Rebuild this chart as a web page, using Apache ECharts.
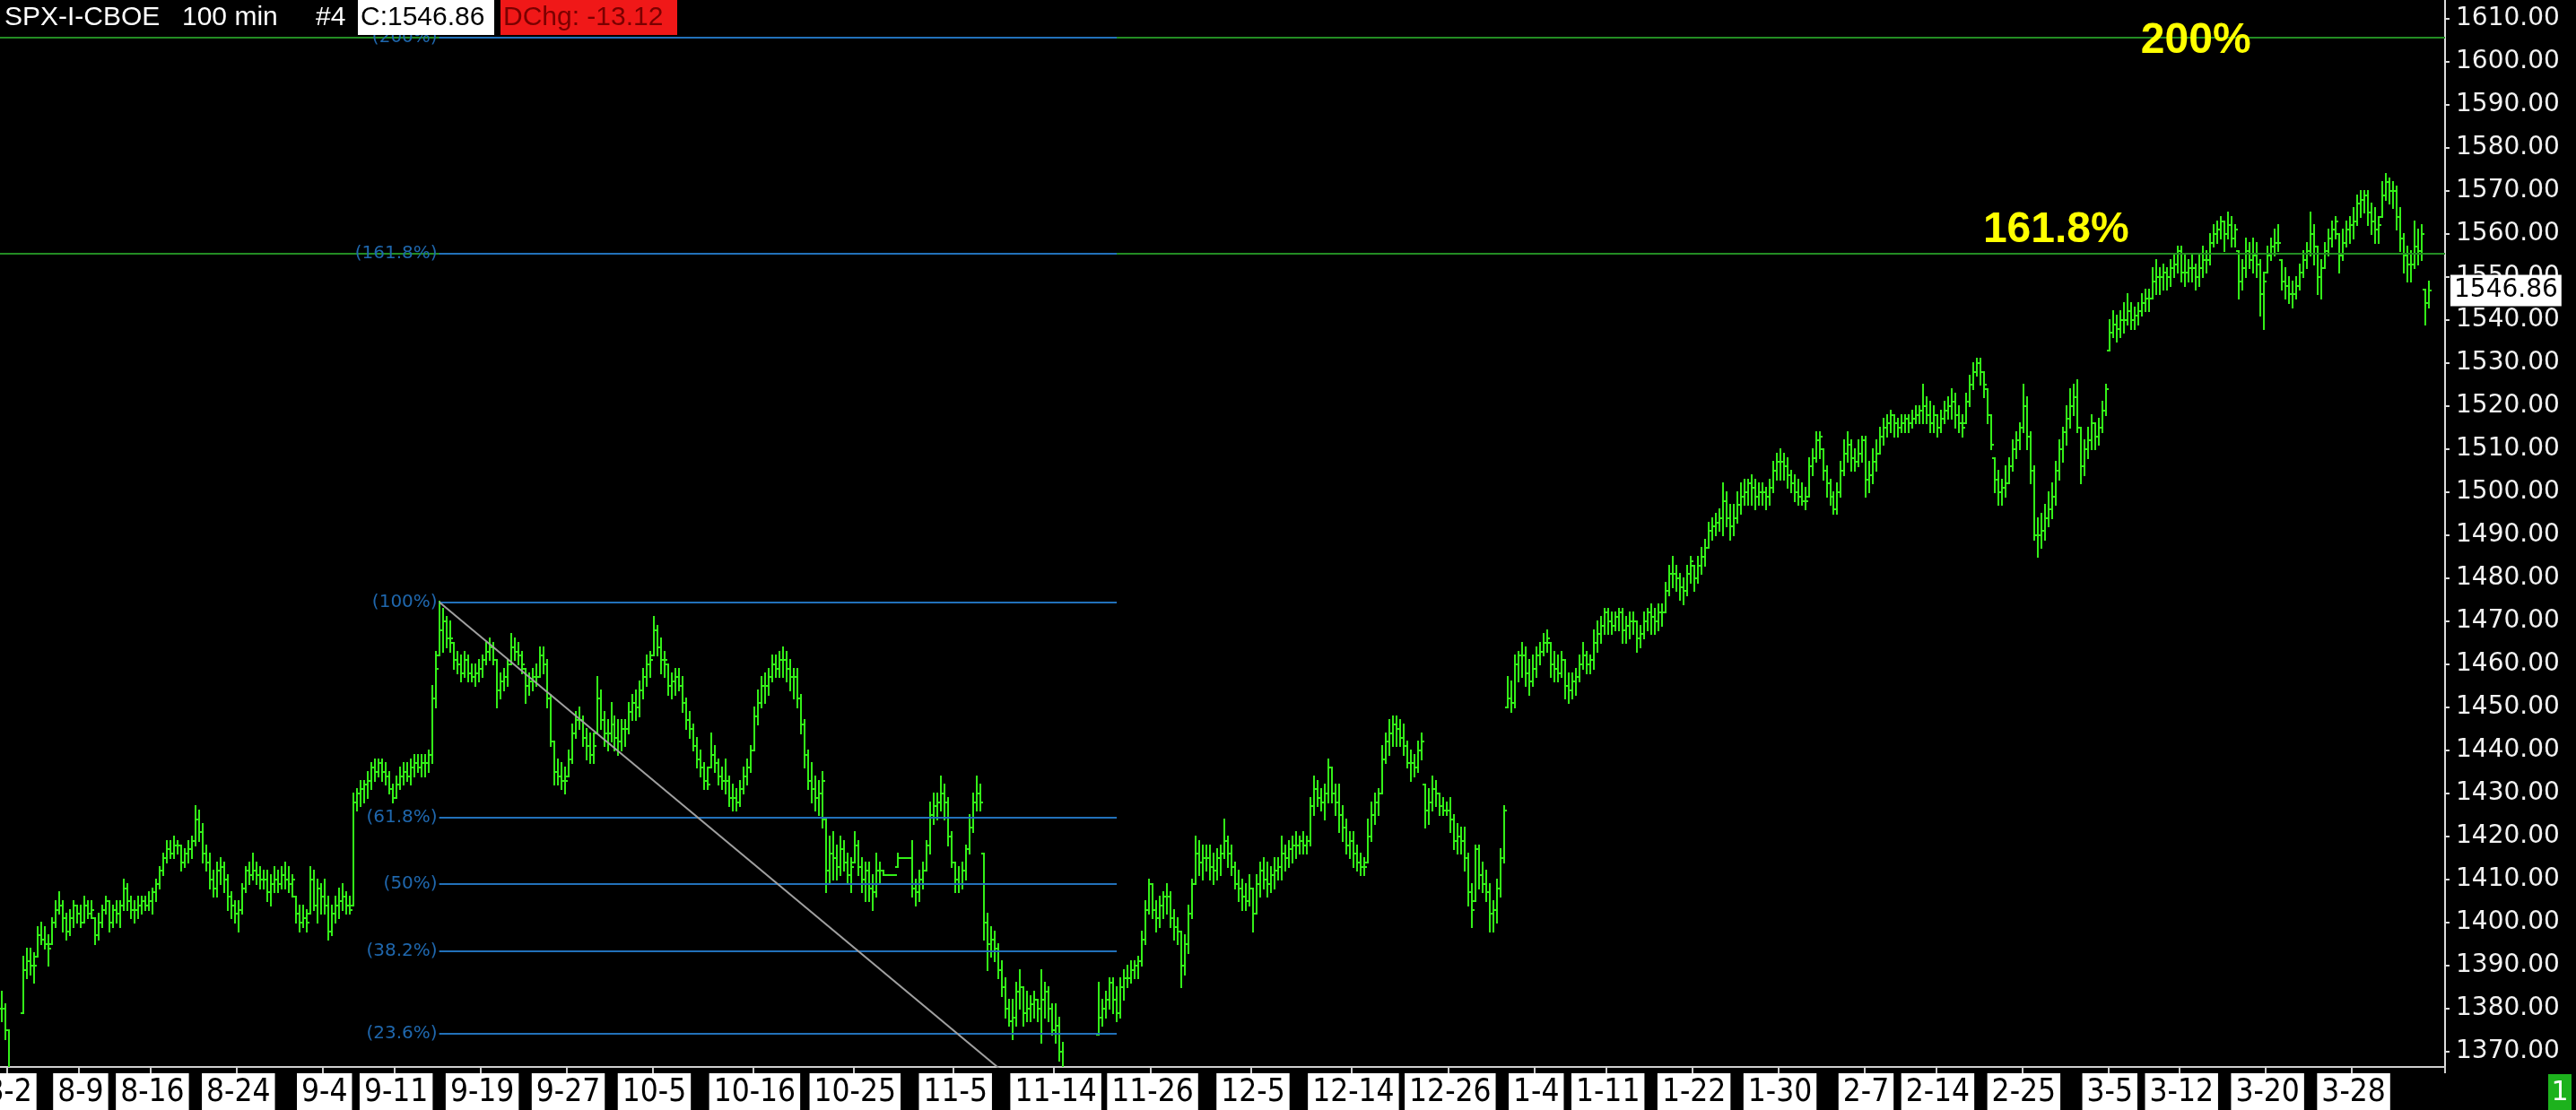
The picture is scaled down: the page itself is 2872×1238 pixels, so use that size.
<!DOCTYPE html>
<html><head><meta charset="utf-8">
<script src="https://cdn.jsdelivr.net/npm/echarts@6/dist/echarts.min.js"></script>
<style>html,body{margin:0;padding:0;background:#000}#c{width:2872px;height:1238px}</style>
</head><body><div id="c"></div>
<script>
// ---- Data: 100-minute bars, each [high, low, close] ----
const aug = [
['8-1',[[1384,1377,1380],[1381,1373,1375]]],
['8-2',[[1375,1360,1363],[1365,1355,1358],[1363,1355,1361],[1365,1358,1365]]],
['8-3',[[1392,1379,1389],[1394,1387,1391],[1394,1388,1390],[1393,1386,1390]]],
['8-6',[[1399,1392,1397],[1400,1395,1396],[1399,1394,1395],[1397,1390,1394]]],
['8-7',[[1401,1395,1400],[1405,1399,1403],[1407,1402,1404],[1405,1398,1401]]],
['8-8',[[1402,1396,1398],[1403,1397,1401],[1405,1399,1404],[1404,1400,1402]]],
['8-9',[[1404,1399,1400],[1406,1400,1404],[1405,1401,1402],[1405,1401,1403]]],
['8-10',[[1401,1395,1397],[1402,1396,1400],[1404,1399,1403],[1406,1402,1405]]],
['8-13',[[1405,1398,1400],[1404,1399,1403],[1405,1400,1402],[1405,1399,1404]]],
['8-14',[[1410,1403,1408],[1409,1403,1405],[1406,1401,1403],[1405,1400,1403]]],
['8-15',[[1406,1401,1404],[1406,1402,1405],[1406,1403,1404],[1407,1403,1405]]],
['8-16',[[1408,1402,1407],[1410,1405,1409],[1413,1408,1412],[1416,1411,1415]]],
['8-17',[[1419,1414,1417],[1419,1415,1416],[1420,1415,1418],[1419,1416,1418]]],
['8-20',[[1418,1412,1414],[1417,1413,1416],[1419,1414,1417],[1420,1415,1419]]],
['8-21',[[1427,1418,1424],[1426,1419,1421],[1423,1414,1416],[1418,1412,1414]]],
['8-22',[[1416,1408,1410],[1412,1406,1408],[1414,1406,1412],[1415,1409,1413]]],
['8-23',[[1414,1407,1410],[1411,1403,1406],[1407,1401,1404],[1405,1400,1402]]],
['8-24',[[1405,1398,1403],[1409,1402,1408],[1413,1407,1412],[1414,1409,1411]]],
['8-27',[[1416,1410,1412],[1414,1409,1411],[1413,1408,1410],[1412,1408,1410]]],
['8-28',[[1412,1405,1407],[1411,1404,1409],[1413,1407,1410],[1412,1407,1409]]],
['8-29',[[1413,1408,1411],[1414,1408,1410],[1413,1407,1409],[1411,1406,1410]]],
['8-30',[[1406,1400,1402],[1404,1398,1400],[1404,1399,1401],[1403,1398,1400]]],
['8-31',[[1413,1402,1410],[1412,1403,1404],[1410,1400,1408],[1409,1402,1406]]]
];
const sep = [
['9-4',[[1410,1402,1404],[1406,1396,1398],[1404,1397,1402],[1406,1400,1404]]],
['9-5',[[1408,1401,1405],[1409,1403,1406],[1407,1402,1404],[1406,1402,1403]]],
['9-6',[[1430,1404,1428],[1431,1426,1430],[1433,1427,1431],[1433,1428,1432]]],
['9-7',[[1435,1429,1433],[1437,1431,1436],[1438,1433,1435],[1438,1434,1437]]],
['9-10',[[1438,1433,1435],[1437,1432,1434],[1435,1430,1431],[1432,1428,1429]]],
['9-11',[[1434,1429,1432],[1436,1431,1434],[1437,1432,1435],[1437,1433,1434]]],
['9-12',[[1438,1432,1436],[1439,1434,1437],[1439,1435,1436],[1439,1434,1437]]],
['9-13',[[1439,1434,1437],[1440,1435,1439],[1455,1437,1452],[1463,1450,1459]]],
['9-14',[[1474.5,1462,1468],[1473,1463,1470],[1471,1464,1466],[1470,1463,1466]]],
['9-17',[[1465,1459,1461],[1463,1458,1460],[1462,1456,1458],[1463,1457,1461]]],
['9-18',[[1462,1456,1458],[1460,1456,1457],[1460,1455,1458],[1461,1456,1459]]],
['9-19',[[1462,1457,1461],[1465,1460,1463],[1466,1461,1464],[1465,1460,1461]]],
['9-20',[[1461,1450,1454],[1458,1452,1456],[1459,1454,1457],[1461,1455,1460]]],
['9-21',[[1467,1460,1464],[1466,1461,1463],[1465,1460,1462],[1463,1458,1460]]],
['9-24',[[1459,1451,1455],[1458,1453,1456],[1459,1454,1457],[1460,1455,1457]]],
['9-25',[[1464,1457,1462],[1464,1458,1460],[1461,1450,1452],[1453,1441,1442]]],
['9-26',[[1442,1432,1435],[1438,1432,1434],[1437,1431,1433],[1436,1430,1433]]],
['9-27',[[1440,1434,1438],[1446,1437,1444],[1449,1443,1447],[1450,1445,1447]]],
['9-28',[[1448,1441,1443],[1445,1438,1441],[1444,1437,1439],[1444,1437,1441]]]
];
const oct = [
['10-1',[[1457,1444,1452],[1454,1445,1447],[1449,1441,1444],[1447,1440,1444]]],
['10-2',[[1451,1442,1446],[1448,1440,1443],[1447,1439,1442],[1447,1440,1445]]],
['10-3',[[1447,1441,1445],[1451,1444,1449],[1453,1447,1451],[1454,1447,1450]]],
['10-4',[[1456,1448,1454],[1459,1452,1457],[1462,1455,1460],[1463,1457,1461]]],
['10-5',[[1471,1462,1468],[1469,1462,1464],[1466,1458,1461],[1463,1457,1461]]],
['10-8',[[1460,1453,1455],[1458,1452,1456],[1459,1453,1457],[1459,1454,1455]]],
['10-9',[[1457,1449,1451],[1452,1445,1447],[1449,1443,1445],[1446,1440,1441]]],
['10-10',[[1443,1436,1438],[1440,1434,1436],[1437,1431,1433],[1436,1431,1432]]],
['10-11',[[1444,1436,1439],[1441,1435,1437],[1438,1432,1434],[1436,1431,1433]]],
['10-12',[[1438,1430,1433],[1434,1427,1429],[1432,1426,1429],[1431,1426,1428]]],
['10-15',[[1433,1427,1431],[1436,1430,1434],[1438,1432,1436],[1441,1435,1440]]],
['10-16',[[1450,1440,1448],[1454,1446,1451],[1457,1450,1455],[1458,1451,1455]]],
['10-17',[[1459,1453,1457],[1462,1456,1460],[1462,1457,1459],[1463,1457,1461]]],
['10-18',[[1464,1457,1461],[1463,1456,1459],[1461,1454,1457],[1459,1452,1457]]],
['10-19',[[1459,1450,1452],[1453,1444,1446],[1447,1436,1439],[1440,1431,1433]]],
['10-22',[[1437,1428,1431],[1434,1426,1429],[1433,1425,1430],[1435,1422,1433]]],
['10-23',[[1424,1407,1412],[1420,1409,1416],[1421,1410,1415],[1418,1410,1413]]],
['10-24',[[1420,1411,1417],[1419,1412,1414],[1416,1409,1411],[1415,1407,1413]]],
['10-25',[[1421,1414,1418],[1419,1411,1413],[1415,1407,1410],[1414,1405,1412]]],
['10-26',[[1414,1405,1408],[1411,1403,1407],[1416,1406,1412],[1414,1409,1412]]],
['10-29',[[1412,1411,1411],[1411,1411,1411],[1411,1411,1411],[1411,1411,1411]]],
['10-30',[[1416,1413,1415],[1415,1415,1415],[1415,1415,1415],[1415,1415,1415]]],
['10-31',[[1419,1406,1408],[1410,1404,1407],[1412,1405,1410],[1414,1408,1412]]]
];
const nov = [
['11-1',[[1419,1412,1418],[1428,1416,1425],[1430,1423,1427],[1430,1424,1428]]],
['11-2',[[1434,1426,1430],[1432,1424,1428],[1429,1418,1420],[1421,1413,1414]]],
['11-5',[[1414,1407,1410],[1413,1407,1409],[1414,1408,1412],[1418,1410,1417]]],
['11-6',[[1425,1416,1422],[1430,1421,1428],[1434,1426,1430],[1432,1426,1428]]],
['11-7',[[1416,1396,1400],[1402,1389,1395],[1399,1392,1396],[1398,1391,1394]]],
['11-8',[[1395,1387,1389],[1391,1383,1385],[1387,1378,1380],[1382,1376,1377]]],
['11-9',[[1382,1373,1378],[1386,1376,1384],[1389,1380,1385],[1385,1376,1379]]],
['11-12',[[1384,1377,1380],[1383,1377,1381],[1384,1378,1382],[1382,1377,1380]]],
['11-13',[[1389,1372,1382],[1386,1378,1384],[1385,1377,1380],[1381,1374,1375]]],
['11-14',[[1381,1372,1376],[1378,1368,1370],[1372,1362,1364],[1366,1353,1355]]],
['11-15',[[1362,1352,1356],[1358,1350,1353],[1359,1351,1355],[1357,1349,1353]]],
['11-16',[[1356,1343,1350],[1354,1346,1352],[1358,1349,1355],[1362,1353,1359]]],
['11-19',[[1386,1374,1378],[1382,1376,1380],[1384,1378,1382],[1387,1380,1386]]],
['11-20',[[1387,1379,1382],[1385,1377,1379],[1387,1378,1385],[1389,1382,1387]]],
['11-21',[[1390,1385,1387],[1391,1386,1389],[1391,1387,1390],[1392,1387,1391]]],
['11-23',[[1398,1390,1396],[1405,1395,1403],[1410,1402,1409]]],
['11-26',[[1409,1401,1403],[1405,1398,1401],[1406,1399,1404],[1407,1401,1406]]],
['11-27',[[1409,1402,1406],[1407,1399,1401],[1403,1396,1399],[1401,1395,1398]]],
['11-28',[[1398,1385,1390],[1397,1388,1395],[1404,1393,1402],[1410,1401,1409]]],
['11-29',[[1420,1409,1416],[1419,1411,1414],[1418,1410,1415],[1418,1412,1415]]],
['11-30',[[1418,1410,1413],[1416,1409,1412],[1417,1410,1415],[1418,1411,1416]]]
];
const dec = [
['12-3',[[1424,1415,1419],[1420,1413,1416],[1418,1411,1413],[1414,1408,1409]]],
['12-4',[[1412,1405,1408],[1410,1403,1406],[1409,1403,1405],[1411,1404,1408]]],
['12-5',[[1408,1398,1402],[1411,1402,1409],[1414,1406,1412],[1415,1408,1410]]],
['12-6',[[1414,1406,1409],[1413,1407,1411],[1415,1408,1412],[1415,1410,1413]]],
['12-7',[[1420,1410,1416],[1418,1412,1415],[1419,1413,1417],[1420,1414,1418]]],
['12-10',[[1421,1415,1418],[1420,1416,1419],[1421,1416,1418],[1420,1416,1419]]],
['12-11',[[1429,1418,1427],[1434,1425,1431],[1433,1427,1429],[1431,1426,1428]]],
['12-12',[[1432,1424,1430],[1438,1428,1436],[1436,1428,1430],[1432,1425,1428]]],
['12-13',[[1432,1421,1425],[1427,1419,1422],[1424,1416,1418],[1421,1415,1419]]],
['12-14',[[1421,1413,1416],[1418,1412,1414],[1416,1411,1413],[1415,1411,1413]]],
['12-17',[[1424,1414,1420],[1428,1419,1425],[1430,1423,1428],[1431,1425,1430]]],
['12-18',[[1441,1430,1438],[1444,1437,1442],[1447,1439,1444],[1448,1441,1446]]],
['12-19',[[1448,1441,1445],[1447,1441,1443],[1446,1439,1441],[1442,1436,1437]]],
['12-20',[[1440,1433,1437],[1439,1434,1436],[1442,1435,1440],[1444,1438,1442]]],
['12-21',[[1432,1422,1426],[1431,1423,1428],[1434,1426,1431],[1433,1427,1430]]],
['12-24',[[1430,1425,1427],[1429,1425,1426],[1428,1425,1426]]],
['12-26',[[1429,1421,1424],[1425,1417,1419],[1423,1416,1420],[1422,1416,1419]]],
['12-27',[[1422,1412,1415],[1416,1404,1407],[1409,1399,1403],[1418,1405,1417]]],
['12-28',[[1418,1408,1411],[1414,1407,1409],[1412,1405,1407],[1409,1398,1402]]],
['12-31',[[1405,1398,1403],[1410,1400,1408],[1417,1406,1415],[1427,1414,1426]]]
];
const jan = [
['1-2',[[1457,1450,1452],[1456,1449,1451],[1462,1450,1460],[1463,1456,1462]]],
['1-3',[[1465,1457,1462],[1464,1455,1458],[1461,1453,1456],[1462,1455,1459]]],
['1-4',[[1464,1457,1462],[1465,1460,1463],[1467,1462,1465],[1468,1463,1466]]],
['1-7',[[1465,1457,1460],[1463,1456,1459],[1462,1456,1458],[1463,1457,1461]]],
['1-8',[[1461,1452,1455],[1458,1451,1454],[1458,1452,1456],[1459,1453,1457]]],
['1-9',[[1462,1456,1460],[1465,1459,1462],[1463,1458,1460],[1462,1458,1461]]],
['1-10',[[1468,1459,1465],[1470,1463,1467],[1471,1465,1469],[1473,1467,1472]]],
['1-11',[[1473,1467,1470],[1472,1467,1469],[1472,1468,1471],[1473,1468,1472]]],
['1-14',[[1473,1465,1468],[1471,1465,1469],[1472,1466,1470],[1472,1467,1470]]],
['1-15',[[1470,1463,1466],[1469,1464,1467],[1472,1466,1470],[1473,1468,1472]]],
['1-16',[[1474,1467,1471],[1473,1467,1470],[1474,1468,1472],[1474,1469,1472]]],
['1-17',[[1479,1472,1477],[1483,1476,1481],[1485,1478,1481],[1483,1477,1480]]],
['1-18',[[1481,1475,1478],[1480,1474,1477],[1483,1476,1481],[1485,1479,1484]]],
['1-22',[[1483,1477,1480],[1485,1479,1483],[1487,1481,1485],[1489,1483,1487]]],
['1-23',[[1493,1487,1491],[1494,1489,1492],[1495,1490,1493],[1496,1491,1494]]],
['1-24',[[1502,1490,1498],[1500,1492,1494],[1497,1489,1492],[1497,1490,1494]]],
['1-25',[[1500,1493,1497],[1502,1495,1499],[1503,1497,1500],[1503,1497,1502]]],
['1-28',[[1504,1497,1501],[1503,1496,1499],[1502,1497,1500],[1502,1497,1500]]],
['1-29',[[1501,1496,1499],[1503,1497,1501],[1507,1500,1505],[1509,1503,1507]]],
['1-30',[[1510,1503,1507],[1509,1503,1506],[1508,1501,1504],[1505,1500,1502]]],
['1-31',[[1504,1498,1500],[1503,1497,1499],[1502,1497,1498],[1501,1496,1498]]]
];
const feb = [
['2-1',[[1508,1499,1506],[1510,1504,1508],[1514,1507,1512],[1514,1508,1513]]],
['2-4',[[1510,1503,1505],[1506,1499,1502],[1503,1497,1499],[1500,1495,1496]]],
['2-5',[[1502,1495,1500],[1507,1499,1505],[1512,1504,1509],[1514,1507,1511]]],
['2-6',[[1512,1505,1508],[1510,1505,1507],[1512,1506,1509],[1513,1507,1512]]],
['2-7',[[1513,1499,1503],[1507,1500,1504],[1510,1502,1507],[1512,1505,1509]]],
['2-8',[[1515,1509,1513],[1517,1511,1515],[1518,1513,1516],[1519,1514,1518]]],
['2-11',[[1518,1513,1516],[1517,1513,1515],[1518,1514,1516],[1518,1514,1517]]],
['2-12',[[1518,1514,1516],[1519,1515,1517],[1520,1516,1518],[1520,1516,1519]]],
['2-13',[[1525,1516,1520],[1522,1516,1518],[1521,1514,1516],[1520,1514,1518]]],
['2-14',[[1518,1513,1515],[1519,1514,1517],[1521,1516,1519],[1522,1517,1520]]],
['2-15',[[1524,1517,1521],[1523,1515,1518],[1520,1514,1516],[1518,1513,1515]]],
['2-19',[[1523,1516,1521],[1527,1520,1525],[1530,1524,1528],[1531,1527,1530]]],
['2-20',[[1531,1525,1528],[1528,1522,1525],[1524,1516,1518],[1518,1510,1511]]],
['2-21',[[1508,1500,1503],[1505,1497,1500],[1503,1497,1501],[1506,1499,1502]]],
['2-22',[[1508,1502,1506],[1512,1505,1510],[1514,1508,1512],[1516,1510,1515]]],
['2-25',[[1525,1514,1520],[1522,1510,1513],[1514,1502,1505],[1506,1489,1490]]],
['2-26',[[1494,1485,1490],[1495,1487,1491],[1497,1489,1494],[1500,1492,1496]]],
['2-27',[[1502,1494,1499],[1507,1497,1505],[1512,1503,1510],[1515,1507,1514]]],
['2-28',[[1520,1511,1517],[1524,1515,1520],[1525,1518,1522],[1526,1514,1515]]]
];
const mar = [
['3-1',[[1515,1502,1506],[1512,1504,1510],[1515,1508,1512],[1518,1510,1516]]],
['3-4',[[1516,1510,1513],[1517,1511,1515],[1521,1514,1519],[1525,1518,1524]]],
['3-5',[[1540,1533,1537],[1542,1536,1539],[1541,1535,1538],[1542,1536,1540]]],
['3-6',[[1544,1537,1540],[1546,1539,1542],[1544,1538,1540],[1543,1538,1541]]],
['3-7',[[1544,1539,1542],[1546,1541,1544],[1547,1542,1545],[1547,1542,1545]]],
['3-8',[[1552,1545,1549],[1554,1546,1550],[1552,1546,1550],[1553,1547,1551]]],
['3-11',[[1552,1547,1550],[1554,1548,1552],[1555,1550,1553],[1557,1551,1556]]],
['3-12',[[1557,1549,1551],[1555,1548,1551],[1554,1549,1552],[1555,1549,1552]]],
['3-13',[[1553,1547,1550],[1555,1548,1552],[1557,1550,1554],[1556,1551,1554]]],
['3-14',[[1560,1553,1558],[1562,1557,1560],[1563,1558,1561],[1564,1559,1563]]],
['3-15',[[1563,1556,1560],[1565,1559,1562],[1564,1557,1559],[1562,1557,1561]]],
['3-18',[[1556,1545,1549],[1554,1547,1552],[1559,1550,1556],[1558,1552,1554]]],
['3-19',[[1559,1551,1555],[1558,1550,1553],[1554,1541,1546],[1551,1538,1549]]],
['3-20',[[1557,1551,1555],[1559,1554,1557],[1561,1555,1558],[1562,1556,1558]]],
['3-21',[[1554,1547,1549],[1552,1545,1548],[1550,1544,1546],[1549,1543,1546]]],
['3-22',[[1550,1545,1548],[1553,1547,1551],[1556,1550,1554],[1558,1552,1556]]],
['3-25',[[1565,1555,1560],[1562,1553,1557],[1557,1546,1550],[1554,1545,1552]]],
['3-26',[[1558,1552,1556],[1561,1555,1559],[1563,1557,1561],[1564,1559,1563]]],
['3-27',[[1560,1551,1555],[1561,1554,1558],[1563,1557,1561],[1564,1558,1562]]],
['3-28',[[1566,1559,1563],[1569,1562,1567],[1570,1564,1568],[1570,1565,1569]]]
];
const apr = [
['4-1',[[1570,1562,1565],[1567,1560,1563],[1566,1558,1561],[1564,1558,1562]]],
['4-2',[[1572,1564,1569],[1574,1568,1572],[1573,1567,1570],[1572,1566,1570]]],
['4-3',[[1571,1561,1564],[1566,1556,1559],[1560,1551,1555],[1557,1549,1553]]],
['4-4',[[1556,1549,1553],[1563,1552,1557],[1561,1553,1556],[1562,1554,1560]]],
['4-5',[[1547,1539,1544],[1549,1543,1546.86]]]
];
const tickDates = ['8-2','8-9','8-16','8-24','9-4','9-11','9-19','9-27','10-5','10-16','10-25','11-5','11-14','11-26','12-5','12-14','12-26','1-4','1-11','1-22','1-30','2-7','2-14','2-25','3-5','3-12','3-20','3-28'];
const priceTicks = [1370,1380,1390,1400,1410,1420,1430,1440,1450,1460,1470,1480,1490,1500,1510,1520,1530,1540,1550,1560,1570,1580,1590,1600,1610];
const fibHigh = 1474.5, fibLow = 1343.35;          // swing high 9-14, swing low 11-16
const fibLevels = [0.236, 0.382, 0.5, 0.618, 1, 1.618, 2];
const fibNames = ['(23.6%)','(38.2%)','(50%)','(61.8%)','(100%)','(161.8%)','(200%)'];
const lastClose = 1546.86, dayChange = -13.12;
const padBars = 4;

// ---- build ----
const cats = [], ohlc = [];
let prevC = null, idx = 0, fibStartIdx = null;
[aug, sep, oct, nov, dec, jan, feb, mar, apr].forEach(month => month.forEach(([d, bars]) => {
  bars.forEach((b, k) => {
    const [h, l, c] = b;
    const o = prevC == null ? c : Math.min(h, Math.max(l, prevC));
    cats.push(d + '|' + k);
    ohlc.push([idx, o, h, l, c]);
    if (d === '9-14' && k === 0) fibStartIdx = idx;
    prevC = c; idx++;
  });
}));
for (let i = 0; i < padBars; i++) cats.push('pad|' + i);
const fibEndIdx = fibStartIdx + 189;
const fibVal = r => fibLow + r * (fibHigh - fibLow);

const G = '#33f018', BLUE = '#2271ba', BLUE_T = '#1f67ad', DKGREEN = '#238c23';
const chart = echarts.init(document.getElementById('c'), null, {renderer: 'canvas'});

const blueLines = fibLevels.map((r, i) => [
  {coord: [fibStartIdx, fibVal(r)], label: {formatter: fibNames[i]}},
  {coord: [fibEndIdx, fibVal(r)]}
]);
const isTick = (i, v) => { const p = String(v).split('|'); return p[1] === '0' && tickDates.includes(p[0]); };

chart.setOption({
  backgroundColor: '#000',
  animation: false,
  grid: {left: 0, right: 146, top: 0, bottom: 48, containLabel: false, outerBoundsMode: 'none'},
  xAxis: {
    type: 'category', data: cats, boundaryGap: true,
    axisLine: {lineStyle: {color: '#cfcfcf', width: 2}},
    axisTick: {show: true, length: 7, lineStyle: {color: '#cfcfcf', width: 2}, interval: isTick},
    axisLabel: {
      interval: isTick, hideOverlap: false,
      formatter: v => v.split('|')[0],
      color: '#000', backgroundColor: '#fff', padding: [4, 5, 14, 5], margin: 7,
      fontFamily: '"Liberation Sans Narrow","DejaVu Sans Condensed",sans-serif', fontSize: 35
    },
    splitLine: {show: false}
  },
  yAxis: {
    type: 'value', position: 'right', min: 1366.46, max: 1614.38,
    axisLine: {show: true, lineStyle: {color: '#dcdcdc', width: 2}},
    axisTick: {show: true, length: 5, customValues: priceTicks, lineStyle: {color: '#dcdcdc', width: 2}},
    axisLabel: {customValues: priceTicks, formatter: v => v.toFixed(2), color: '#f2f2f2', margin: 12,
      fontFamily: '"DejaVu Sans",sans-serif', fontSize: 28},
    splitLine: {show: false}
  },
  series: [
    {
      type: 'custom', name: 'SPX', clip: true, z: 2,
      encode: {x: 0, y: [1, 2, 3, 4]},
      data: ohlc,
      renderItem: (params, api) => {
        const i = api.value(0);
        const x = Math.round(api.coord([i, 0])[0]);
        const oy = Math.round(api.coord([i, api.value(1)])[1]);
        const hy = Math.round(api.coord([i, api.value(2)])[1]);
        const ly = Math.round(api.coord([i, api.value(3)])[1]);
        const cy = Math.round(api.coord([i, api.value(4)])[1]);
        const st = {stroke: G, lineWidth: 2};
        return {type: 'group', children: [
          {type: 'line', shape: {x1: x, y1: hy - 1, x2: x, y2: ly + 1}, style: st},
          {type: 'line', shape: {x1: x - 3, y1: oy, x2: x, y2: oy}, style: st},
          {type: 'line', shape: {x1: x, y1: cy, x2: x + 3, y2: cy}, style: st}
        ]};
      }
    },
    {
      type: 'line', name: 'lastValue', data: [], z: 6,
      markLine: {
        silent: true, symbol: 'none', animation: false,
        lineStyle: {color: 'rgba(0,0,0,0)', width: 1, type: 'solid'},
        label: {show: true, position: 'end', distance: 6, formatter: () => lastClose.toFixed(2),
          color: '#000', backgroundColor: '#fff', padding: [4, 4, 3, 4],
          fontFamily: '"DejaVu Sans",sans-serif', fontSize: 28},
        data: [{yAxis: lastClose}]
      }
    },
    {
      type: 'line', name: 'fibGreen', data: [], z: 3,
      markLine: {
        silent: true, symbol: 'none', animation: false,
        lineStyle: {color: DKGREEN, width: 2, type: 'solid'},
        label: {show: false},
        data: [{yAxis: fibVal(1.618)}, {yAxis: fibVal(2)}]
      }
    },
    {
      type: 'line', name: 'fibBlue', data: [], z: 4,
      markLine: {
        silent: true, symbol: 'none', animation: false,
        lineStyle: {color: BLUE, width: 2, type: 'solid'},
        label: {show: true, position: 'start', distance: 2, color: BLUE_T,
          fontFamily: '"DejaVu Sans",sans-serif', fontSize: 20},
        data: blueLines
      },
      markPoint: {
        silent: true, symbol: 'circle', symbolSize: 0,
        label: {show: true, color: '#ffff00', fontWeight: 'bold', fontSize: 48,
          fontFamily: '"Liberation Sans",Arial,sans-serif'},
        data: [
          {coord: [573, fibVal(1.618)], label: {formatter: '161.8%', position: 'top', distance: 2}},
          {coord: [612, fibVal(2)], label: {formatter: '200%', position: 'inside', offset: [0, 4]}}
        ]
      }
    },
    {
      type: 'line', name: 'trend', z: 5, symbol: 'none', clip: true,
      lineStyle: {color: '#a0a0a0', width: 2},
      data: [[fibStartIdx, fibHigh], [fibEndIdx, fibLow]]
    }
  ],
  graphic: [
    {type: 'rect', z: 100, shape: {x: 0, y: 0, width: 396, height: 39}, style: {fill: '#000'}},
    {type: 'text', z: 101, x: 5, y: 20, style: {text: 'SPX-I-CBOE', fill: '#fff', font: '30px "Liberation Sans",Arial,sans-serif', verticalAlign: 'middle'}},
    {type: 'text', z: 101, x: 203, y: 20, style: {text: '100 min', fill: '#fff', font: '30px "Liberation Sans",Arial,sans-serif', verticalAlign: 'middle'}},
    {type: 'text', z: 101, x: 352, y: 20, style: {text: '#4', fill: '#fff', font: '30px "Liberation Sans",Arial,sans-serif', verticalAlign: 'middle'}},
    {type: 'rect', z: 100, shape: {x: 399, y: 0, width: 152, height: 39}, style: {fill: '#fff'}},
    {type: 'text', z: 101, x: 402, y: 20, style: {text: 'C:' + lastClose.toFixed(2), fill: '#000', font: '30px "Liberation Sans",Arial,sans-serif', verticalAlign: 'middle'}},
    {type: 'rect', z: 100, shape: {x: 558, y: 0, width: 197, height: 39}, style: {fill: '#f01818'}},
    {type: 'text', z: 101, x: 561, y: 20, style: {text: 'DChg: ' + dayChange.toFixed(2), fill: '#7a0000', font: '30px "Liberation Sans",Arial,sans-serif', verticalAlign: 'middle'}},
    {type: 'rect', z: 100, shape: {x: 2841, y: 1198, width: 26, height: 40}, style: {fill: '#1db21d'}},
    {type: 'text', z: 101, x: 2854, y: 1219, style: {text: '1', fill: '#fff', font: '30px "DejaVu Sans",sans-serif', align: 'center', verticalAlign: 'middle'}}
  ]
});
</script></body></html>
